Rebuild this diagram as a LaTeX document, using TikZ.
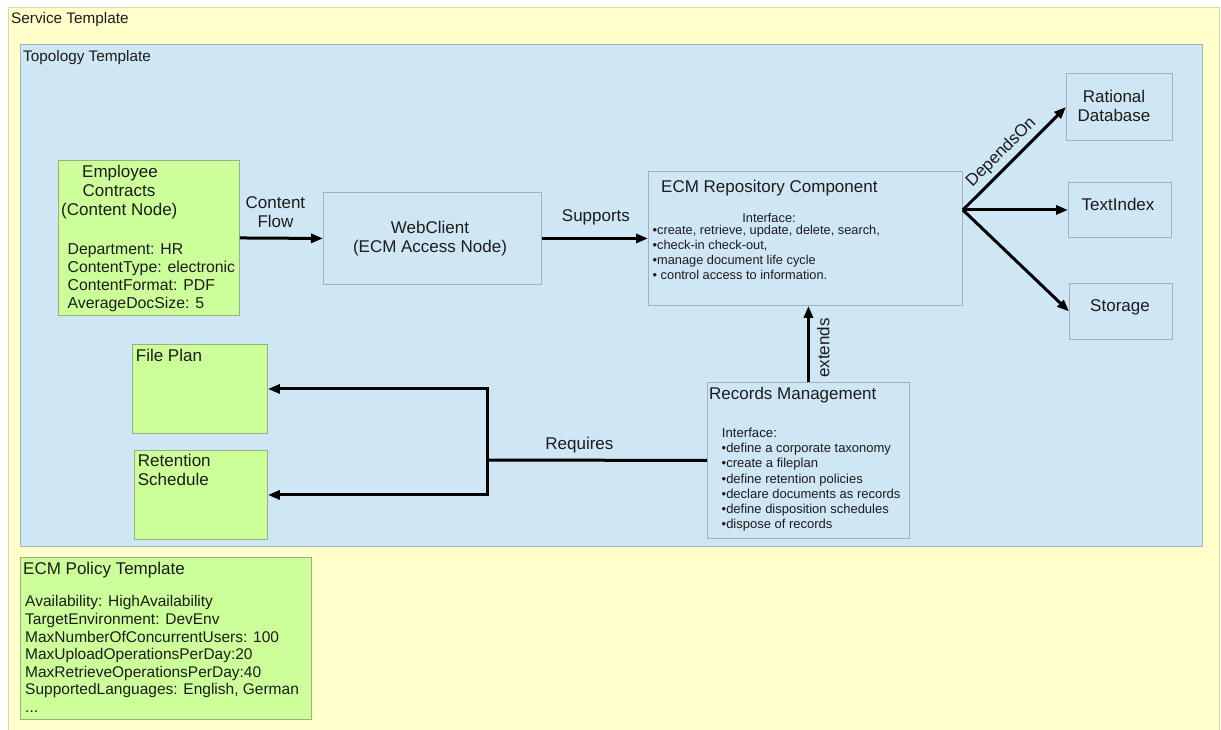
\documentclass[tikz,border=0pt]{standalone}
\usepackage{fontspec}
\setmainfont{Liberation Sans}
\usetikzlibrary{arrows.meta}
\definecolor{yellowc}{RGB}{255,255,204}
\definecolor{yellowbord}{RGB}{215,215,170}
\definecolor{bluec}{RGB}{207,230,244}
\definecolor{bluebord}{RGB}{160,178,192}
\definecolor{greenc}{RGB}{204,255,153}
\definecolor{greenbord}{RGB}{150,178,125}
\definecolor{textc}{RGB}{28,28,28}
\newcommand\fsz[2]{\fontsize{#1}{#2}\selectfont}
\tikzset{
  box/.style={draw=bluebord, line width=0.9pt, inner sep=0pt, anchor=north west},
  bluebox/.style={box, fill=bluec},
  greenbox/.style={box, fill=greenc, draw=greenbord},
  txt/.style={inner sep=0pt, text=textc, font=\fsz{17}{19.5}},
  smalltxt/.style={inner sep=0pt, text=textc, font=\fsz{15.5}{18}},
  tinytxt/.style={inner sep=0pt, text=textc, font=\fsz{12.8}{15}},
  conn/.style={line width=3pt, draw=black, -{Triangle[length=12pt,width=9pt]}},
}
\begin{document}
\begin{tikzpicture}[x=1pt,y=-1pt]
\useasboundingbox (0,0) rectangle (1221,729);
\fill[white] (0,0) rectangle (1221,729);
% containers
\node[box, fill=yellowc, draw=yellowbord, minimum width=1211pt, minimum height=740pt] (svc) at (8,7) {};
\node[smalltxt, anchor=base west, font=\fsz{15.3}{18}] (svct) at (11,23) {Service Template};
\node[bluebox, minimum width=1182pt, minimum height=502pt] (topo) at (20,44) {};
\node[smalltxt, anchor=base west, font=\fsz{15.3}{18}] (topot) at (23,61) {Topology Template};

% employee contracts
\node[greenbox, minimum width=181pt, minimum height=155pt] (emp) at (58,160) {};
\node[txt, anchor=base] (emp1) at (120,177) {Employee};
\node[txt, anchor=base] (emp2) at (119,196) {Contracts};
\node[txt, anchor=base west] (emp3) at (61,215) {(Content Node)};
\foreach \t [count=\i] in {Department: HR, ContentType: electronic, ContentFormat: PDF, AverageDocSize: 5}
  \node[smalltxt, anchor=base west, font=\fsz{15.8}{18}] (empa\i) at (67.5,{254+18.3*(\i-1)}) {\t};

% webclient
\node[bluebox, minimum width=218pt, minimum height=92pt] (web) at (323,192) {};
\node[txt, anchor=base] (web1) at (430,233.3) {WebClient};
\node[txt, anchor=base] (web2) at (430,252.3) {(ECM Access Node)};

% ECM repository
\node[bluebox, minimum width=314pt, minimum height=134pt] (ecm) at (648,171) {};
\node[txt, anchor=base west] (ecmt) at (661,192) {ECM Repository Component};
\node[tinytxt, anchor=base] (ecmi) at (769,222) {Interface:};
\foreach \t [count=\i] in {{•create, retrieve, update, delete, search,}, {•check-in check-out,}, •manage document life cycle, • control access to information.}
  \node[tinytxt, anchor=base west] (ecmb\i) at (652.5,{234+15.3*(\i-1)}) {\t};

% right side nodes
\node[bluebox, minimum width=106pt, minimum height=67pt] (rdb) at (1066,73) {};
\node[txt, anchor=base] (rdb1) at (1114,102.3) {Rational};
\node[txt, anchor=base] (rdb2) at (1114,121) {Database};
\node[bluebox, minimum width=103pt, minimum height=55pt] (tidx) at (1068,182) {};
\node[txt, anchor=base] (tidxt) at (1118,210.7) {TextIndex};
\node[bluebox, minimum width=103pt, minimum height=56pt] (stor) at (1069,283) {};
\node[txt, anchor=base] (stort) at (1120,311.7) {Storage};

% file plan / retention
\node[greenbox, minimum width=135pt, minimum height=89pt] (fp) at (132,344) {};
\node[txt, anchor=base west] (fpt) at (135.7,361) {File Plan};
\node[greenbox, minimum width=133pt, minimum height=89pt] (rs) at (134,450) {};
\node[txt, anchor=base west] (rs1) at (137.7,466.7) {Retention};
\node[txt, anchor=base west] (rs2) at (137.7,485.7) {Schedule};

% records management
\node[bluebox, minimum width=202pt, minimum height=156pt] (rm) at (707,382) {};
\node[txt, anchor=base west] (rmt) at (709,399) {Records Management};
\node[tinytxt, anchor=base west, font=\fsz{13.2}{15}] (rmi) at (721.7,437) {Interface:};
\foreach \t [count=\i] in {•define a corporate taxonomy, •create a fileplan, •define retention policies, •declare documents as records, •define disposition schedules, •dispose of records}
  \node[tinytxt, anchor=base west, font=\fsz{13}{15}] (rmb\i) at (721.5,{452.7+15.2*(\i-1)}) {\t};

% policy template
\node[greenbox, minimum width=291pt, minimum height=162pt] (pol) at (20,557) {};
\node[txt, anchor=base west] (polt) at (23,574) {ECM Policy Template};
\foreach \t [count=\i] in {Availability: HighAvailability, TargetEnvironment: DevEnv, MaxNumberOfConcurrentUsers: 100, MaxUploadOperationsPerDay:20, MaxRetrieveOperationsPerDay:40, {SupportedLanguages: English, German}}
  \node[smalltxt, anchor=base west] (pola\i) at (25,{606.7+17.65*(\i-1)}) {\t};
\node[smalltxt, anchor=base west] (poldots) at (25,712.6) {...};

% connectors
\draw[conn] (emp.east) -- (web.west)
  node[txt, midway, above=9pt, align=center, xshift=-6pt] (cflab) {Content\\Flow};
\draw[conn] (web.east) -- (ecm.west |- web.east)
  node[txt, midway, above=12pt, xshift=1pt] (suplab) {Supports};

\coordinate (fork) at (ecm.east |- tidx.west);
\draw[conn] (fork) -- (rdb.west)
  node[txt, midway, sloped, above=4pt, xshift=-5pt] (deplab) {DependsOn};
\draw[conn] (fork) -- (tidx.west);
\draw[conn] (fork) -- (stor.west);

\draw[conn] (rm.north) -- (rm.north |- ecm.south)
  node[txt, midway, sloped, below=7pt, xshift=-4pt] (extlab) {extends};

\coordinate (junc) at (487,460);
\draw[line width=3pt] (rm.west) -- (junc)
  node[txt, pos=0.58, above=6pt] (reqlab) {Requires};
\draw[conn] (junc) |- (fp.east);
\draw[conn] (junc) |- (rs.east);
\end{tikzpicture}
\end{document}
